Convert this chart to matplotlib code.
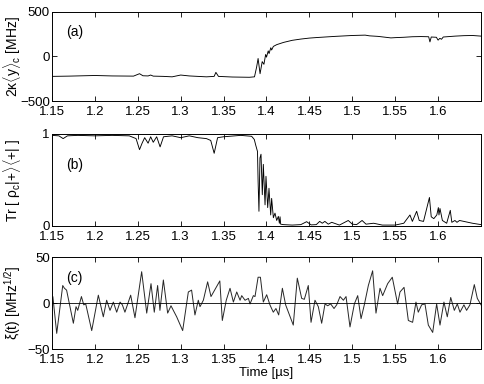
import matplotlib
matplotlib.use("Agg")
import matplotlib.pyplot as plt

plt.rcParams["font.family"] = ["Liberation Sans", "DejaVu Sans"]
plt.rcParams["mathtext.fontset"] = "custom"
plt.rcParams["mathtext.rm"] = "Liberation Sans"
plt.rcParams["mathtext.it"] = "Liberation Sans:italic"
plt.rcParams["font.size"] = 9.5

# ---- panel (a): 2 kappa <y>_c [MHz] ----
t_a = [1.15, 1.17, 1.20, 1.22, 1.245, 1.252, 1.256, 1.262, 1.265, 1.268, 1.28,
       1.29, 1.30, 1.31, 1.33, 1.339, 1.341, 1.344, 1.36, 1.38, 1.386,
       1.3885, 1.3902, 1.3925, 1.395, 1.397, 1.399, 1.400, 1.402, 1.403,
       1.405, 1.406, 1.408, 1.410, 1.412, 1.42, 1.43, 1.44, 1.45, 1.46,
       1.48, 1.50, 1.515, 1.52, 1.53, 1.545, 1.55, 1.56, 1.57, 1.58, 1.589,
       1.5905, 1.592, 1.598, 1.600, 1.602, 1.604, 1.606, 1.62, 1.63, 1.64, 1.65]
y_a = [-225, -222, -215, -220, -222, -195, -218, -220, -210, -222, -225,
       -230, -210, -220, -230, -225, -180, -225, -232, -235, -230,
       -120, -25, -195, -60, -90, 20, -10, 60, 30,
       95, 70, 110, 120, 130, 155, 178, 192, 203, 210,
       222, 232, 236, 228, 222, 205, 208, 212, 218, 220, 218,
       160, 215, 212, 180, 200, 190, 215, 225, 230, 232, 225]

# ---- panel (b): Tr[rho_c |+><+|] ----
t_b = [1.15, 1.158, 1.163, 1.168, 1.18, 1.20, 1.22, 1.24, 1.248, 1.252, 1.255,
       1.258, 1.262, 1.265, 1.268, 1.272, 1.276, 1.28, 1.29, 1.30, 1.31, 1.32,
       1.33, 1.335, 1.339, 1.343, 1.35, 1.37, 1.3827, 1.3858, 1.3874, 1.3895,
       1.3902, 1.3912, 1.3924, 1.3936, 1.3951, 1.3963, 1.3983, 1.3994, 1.4014,
       1.4029, 1.4049, 1.4060, 1.4080, 1.4099, 1.4119, 1.4138, 1.4150, 1.4158,
       1.4165, 1.4197, 1.43, 1.44, 1.4468, 1.452, 1.458, 1.462, 1.465, 1.468,
       1.472, 1.476, 1.485, 1.4953, 1.50, 1.505, 1.5114, 1.516, 1.5248, 1.535,
       1.55, 1.56, 1.5672, 1.570, 1.575, 1.578, 1.583, 1.5899, 1.592, 1.595,
       1.5985, 1.6003, 1.601, 1.6022, 1.605, 1.610, 1.6142, 1.616, 1.6196,
       1.622, 1.625, 1.630, 1.635, 1.64, 1.65]
y_b = [0.985, 0.98, 0.95, 0.98, 0.985, 0.98, 0.985, 0.98, 0.95, 0.83, 0.9,
       0.96, 0.90, 0.97, 0.91, 0.97, 0.86, 0.97, 0.98, 0.96, 0.98, 0.96,
       0.95, 0.93, 0.79, 0.96, 0.97, 0.985, 0.975, 0.94, 0.88, 0.81,
       0.49, 0.16, 0.74, 0.78, 0.34, 0.67, 0.23, 0.54, 0.20,
       0.41, 0.12, 0.30, 0.09, 0.14, 0.06, 0.105, 0.03, 0.10,
       0.02, 0.015, 0.01, 0.015, 0.047, 0.012, 0.015, 0.05, 0.03, 0.05,
       0.02, 0.04, 0.01, 0.06, 0.02, 0.015, 0.06, 0.02, 0.03, 0.01,
       0.01, 0.03, 0.12, 0.05, 0.16, 0.06, 0.05, 0.31, 0.10, 0.08,
       0.12, 0.20, 0.12, 0.19, 0.06, 0.03, 0.17, 0.04, 0.06,
       0.04, 0.06, 0.05, 0.04, 0.03, 0.015]

# ---- panel (c): xi(t) [MHz^1/2] ----
t_c = [1.1500, 1.1510, 1.1555, 1.1625, 1.1645, 1.1670, 1.1749, 1.1780, 1.1800,
       1.1843, 1.1870, 1.1893, 1.1963, 1.2040, 1.2098, 1.2137, 1.2176, 1.2215,
       1.2254, 1.2293, 1.2320, 1.2350, 1.2417, 1.2467, 1.2545, 1.2604, 1.2654,
       1.2692, 1.2731, 1.2758, 1.2798, 1.2848, 1.2887, 1.2914, 1.2953, 1.3023,
       1.3089, 1.3127, 1.3166, 1.3205, 1.3225, 1.3264, 1.3314, 1.3353, 1.3456,
       1.3485, 1.3531, 1.3575, 1.3614, 1.3653, 1.3692, 1.3711, 1.3750, 1.3789,
       1.3808, 1.3847, 1.3866, 1.3902, 1.3929, 1.3963, 1.4002, 1.4040, 1.4079,
       1.4110, 1.4142, 1.4185, 1.4223, 1.4312, 1.4359, 1.4410, 1.4441, 1.4487,
       1.4519, 1.4565, 1.4604, 1.4643, 1.4682, 1.4713, 1.4748, 1.4787, 1.4818,
       1.4857, 1.4896, 1.4927, 1.4973, 1.5024, 1.5063, 1.5102, 1.5140, 1.5187,
       1.5237, 1.5276, 1.5323, 1.5354, 1.5412, 1.5466, 1.5528, 1.5556, 1.5603,
       1.5653, 1.5703, 1.5742, 1.5769, 1.5808, 1.5847, 1.5886, 1.5937, 1.5983,
       1.6022, 1.6068, 1.6107, 1.6147, 1.6189, 1.6224, 1.6255, 1.6301, 1.6332,
       1.6371, 1.6422, 1.6457, 1.6488, 1.6500]
y_c = [5, 7, -33, 19, 16, 14, -22, -4, -8,
       7, -2, -1, -30, 8.5, -15, 3, -8, 1,
       -10, 1, -2, -10, 8.5, -16, 34, -11, 21,
       -10, 19, -8, 25, -11, -3, -8, -15, -30,
       12, 14, -13, 3, -4, 3, 23, 7, 24,
       -19, 3, 16, 1, 12, 3, 8, 3, 5,
       -1, 8, 7, 28, 28, 1, 9, -2, -10,
       -6, -13, 16, -2, -24, 27, 5, 4, 19,
       -21, 3, -4, -22, -1, -3, -1, -6, -2,
       7, 3, 7, -26, -1, 8, -17, -2, 19,
       35, -11, 16, 8, 21, 28, -1, 12, 17,
       -19, -21, 1, -10, -2, -1, -24, -32, -1,
       -24, 1, -15, 6, -8, -1, -10, -2, -8,
       -2, 20, 5, 0, -2]

xticks = [1.15, 1.2, 1.25, 1.3, 1.35, 1.4, 1.45, 1.5, 1.55, 1.6]
xticklabels = ["1.15", "1.2", "1.25", "1.3", "1.35", "1.4", "1.45", "1.5", "1.55", "1.6"]

fig = plt.figure(figsize=(4.85, 3.84), dpi=100)
W, H = 485.0, 384.0
left, right = 52, 481


def make_ax(top, bottom):
    ax = fig.add_axes([left / W, 1 - bottom / H, (right - left) / W, (bottom - top) / H])
    ax.set_xlim(1.15, 1.65)
    ax.set_xticks(xticks)
    ax.set_xticklabels(xticklabels)
    ax.tick_params(direction="in", top=True, right=True, length=3.5, width=0.6)
    ax.tick_params(axis="x", pad=3.5)
    ax.tick_params(axis="y", pad=1.5)
    for s in ax.spines.values():
        s.set_linewidth(0.7)
    return ax


ax1 = make_ax(11.5, 101)
ax1.plot(t_a, y_a, color="black", linewidth=0.65)
ax1.set_ylim(-500, 500)
ax1.set_yticks([-500, 0, 500])
ax1.set_ylabel(r"2$\mathrm{\kappa}\langle\mathrm{y}\rangle_\mathrm{c}$ [MHz]", fontsize=10)
ax1.text(1.167, 270, "(a)", va="center", ha="left", fontsize=10)

ax2 = make_ax(134, 226)
ax2.plot(t_b, y_b, color="black", linewidth=0.65)
ax2.set_ylim(0, 1)
ax2.set_yticks([0, 1])
ax2.set_ylabel(r"Tr [ $\mathrm{\rho_c}$|+$\rangle\langle$+| ]", fontsize=10)
ax2.text(1.167, 0.66, "(b)", va="center", ha="left", fontsize=10)

ax3 = make_ax(257, 349)
ax3.plot(t_c, y_c, color="0.15", linewidth=0.7, solid_joinstyle="round")
ax3.axhline(0, color="black", linewidth=0.6)
ax3.set_ylim(-50, 50)
ax3.set_yticks([-50, 0, 50])
ax3.set_ylabel(r"$\mathrm{\xi}$(t) [MHz$^{1/2}$]", fontsize=10)
ax3.text(1.167, 27, "(c)", va="center", ha="left", fontsize=10)
ax3.set_xlabel("Time [µs]", fontsize=9.5, labelpad=1)

for ax in (ax1, ax2, ax3):
    ax.yaxis.set_label_coords(-0.068, 0.5)

fig.savefig("out.png", dpi=100)
